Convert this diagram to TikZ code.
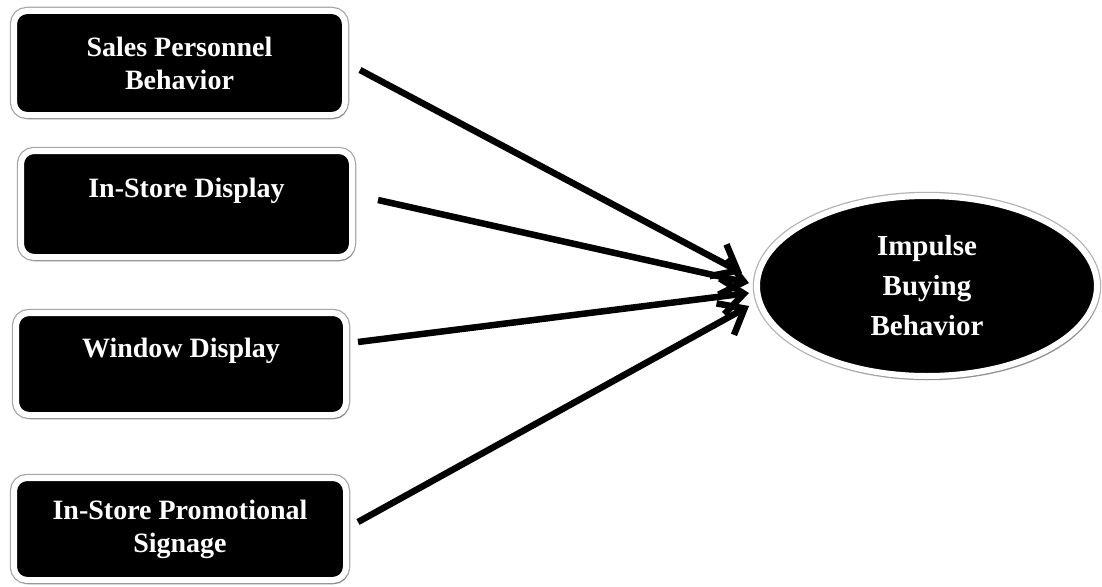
\documentclass[tikz,border=0pt]{standalone}
\usepackage{fontspec}
\setmainfont{Liberation Serif}
\usetikzlibrary{arrows.meta,shapes.geometric,shadows}
\begin{document}
\begin{tikzpicture}[x=1pt,y=-1pt,
  factor/.style={rectangle, rounded corners=13pt, fill=black, draw=white, line width=6pt,
    preaction={draw=black!35, line width=8.5pt},
    drop shadow={shadow xshift=2pt, shadow yshift=-4pt, opacity=0.45, fill=black!60},
    text=white, align=center, font=\bfseries\fontsize{28}{33}\selectfont},
  outcome/.style={ellipse, fill=black, draw=white, line width=6pt,
    preaction={draw=black!30, line width=8.5pt},
    drop shadow={shadow xshift=2pt, shadow yshift=-4pt, opacity=0.45, fill=black!60},
    text=white, align=center, inner sep=0pt, font=\bfseries\fontsize{29}{40}\selectfont},
  link/.style={line width=6.5pt, -{Straight Barb[length=22pt,width=36pt,line width=6.5pt]}}]
\useasboundingbox[fill=white] (0,0) rectangle (1102,586);

\node[factor, minimum width=331pt, minimum height=104pt] (b1) at (179.5,63) {Sales Personnel\\Behavior};
\node[factor, minimum width=331pt, minimum height=106pt] (b2) at (186.5,204) {In-Store Display\\\mbox{}};
\node[factor, minimum width=330pt, minimum height=102pt] (b3) at (181,364) {Window Display\\\mbox{}};
\node[factor, minimum width=332pt, minimum height=102pt] (b4) at (180,529) {In-Store Promotional\\Signage};

\node[outcome, minimum width=340pt, minimum height=180pt] (imp) at (927,286) {Impulse\\Buying\\Behavior};

\draw[link] ([xshift=12pt,yshift=-7pt]b1.east) -- ([xshift=-12pt,yshift=13pt]imp.west);
\draw[link] ([xshift=23pt,yshift=4pt]b2.east) -- ([xshift=-5pt,yshift=3pt]imp.west);
\draw[link] ([xshift=9pt,yshift=22pt]b3.east) -- ([xshift=-5pt,yshift=-7pt]imp.west);
\draw[link] ([xshift=9pt,yshift=7pt]b4.east) -- ([xshift=-5pt,yshift=-20pt]imp.west);
\end{tikzpicture}
\end{document}
